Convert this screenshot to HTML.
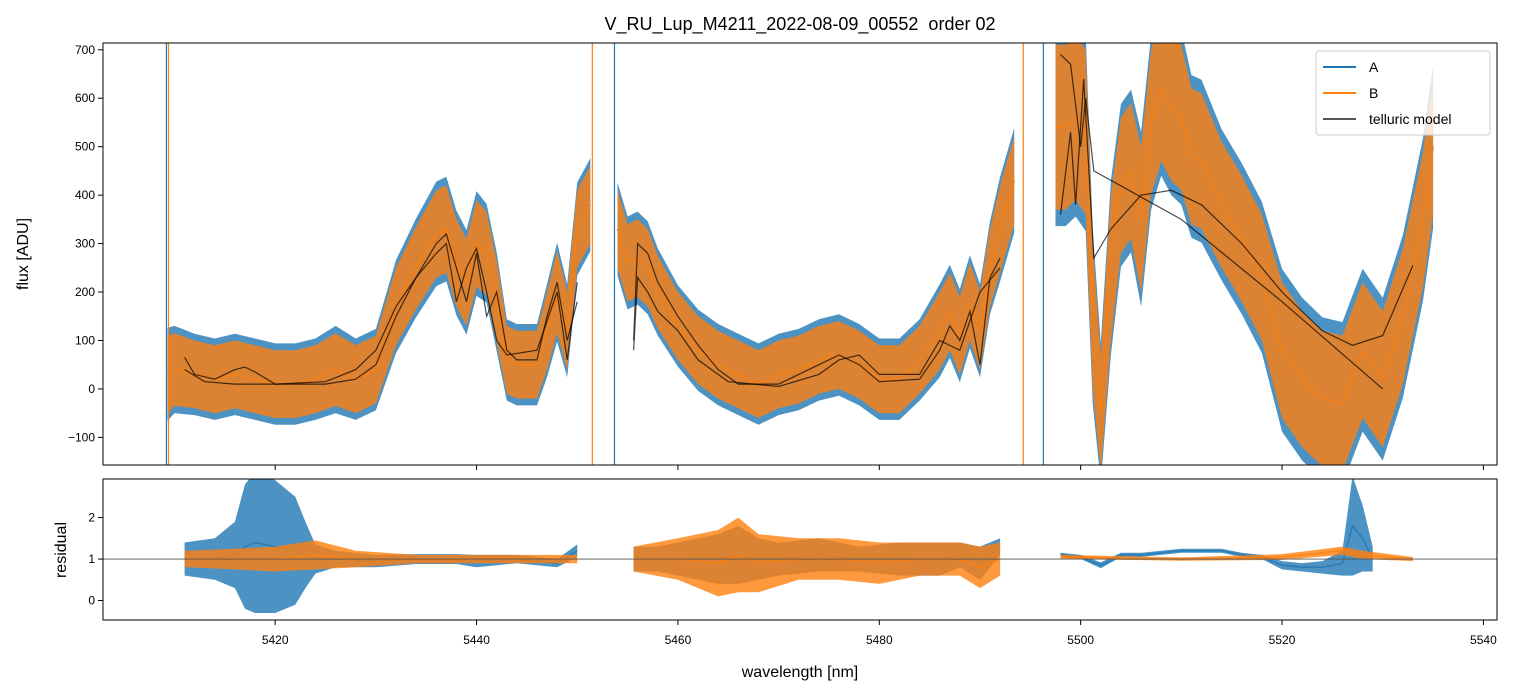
<!DOCTYPE html>
<html><head><meta charset="utf-8">
<style>
body{margin:0;background:#fff;}
svg{display:block;font-family:"Liberation Sans","DejaVu Sans",sans-serif;}
</style></head>
<body>
<svg id="chart" width="1518" height="696" viewBox="0 0 1518 696" xmlns="http://www.w3.org/2000/svg">
<defs>
<clipPath id="clipTop"><rect x="103" y="43" width="1394" height="422"/></clipPath>
<clipPath id="clipBot"><rect x="103" y="479" width="1394" height="141"/></clipPath>
</defs>
<rect x="0" y="0" width="1518" height="696" fill="#fff"/>
<text x="800" y="30" font-size="18" text-anchor="middle" style="white-space:pre">V_RU_Lup_M4211_2022-08-09_00552  order 02</text>
<g id="topPanel" clip-path="url(#clipTop)"></g>
<g id="botPanel" clip-path="url(#clipBot)"></g>
<g id="axesG"></g>
<text x="28" y="254" font-size="16" text-anchor="middle" transform="rotate(-90 28 254)">flux [ADU]</text>
<text x="66" y="550" font-size="16" text-anchor="middle" transform="rotate(-90 66 550)">residual</text>
<text x="800" y="677" font-size="16" text-anchor="middle">wavelength [nm]</text>
<g>
<rect x="1316" y="51" width="174" height="84" rx="3" fill="#fff" fill-opacity="0.8" stroke="#ccc"/>
<line x1="1323" y1="67" x2="1356" y2="67" stroke="#1f77b4" stroke-width="2"/>
<text x="1369" y="72" font-size="14">A</text>
<line x1="1323" y1="93" x2="1356" y2="93" stroke="#ff7f0e" stroke-width="2"/>
<text x="1369" y="98" font-size="14">B</text>
<line x1="1323" y1="119" x2="1356" y2="119" stroke="#555" stroke-width="2"/>
<text x="1369" y="124" font-size="14">telluric model</text>
</g>
</svg>
<script>
// ---- data ----
const fluxWave = [5409.3,5410,5412,5414,5416,5418,5420,5422,5424,5426,5428,5430,5432,5434,5436,5437,5438,5439,5440,5441,5442,5443,5444,5446,5447,5448,5449,5450,5451.3,null,
 5454,5455,5456,5457,5458,5460,5462,5464,5466,5468,5470,5472,5474,5476,5478,5480,5482,5484,5486,5487,5488,5489,5490,5491,5492,5493.4,null,
 5497.5,5498.5,5499.5,5500.5,5501.2,5502,5503,5504,5505,5506,5507,5508,5509,5510,5511,5512,5514,5516,5518,5520,5522,5524,5526,5528,5530,5532,5534,5535];
const fluxCenter = [30,40,30,20,30,20,10,10,20,40,20,40,170,250,320,330,260,220,300,280,180,60,50,50,120,200,120,330,380,null,
 330,260,270,250,200,130,80,50,30,10,30,40,60,70,50,20,20,60,120,160,110,180,120,250,330,430,null,
 540,540,560,530,150,-50,250,420,450,350,550,620,580,560,480,470,380,310,230,80,20,-20,-30,80,20,150,350,500];
const fluxSpread = [80,75,70,70,70,70,70,70,70,75,70,70,80,85,90,90,90,90,90,85,85,70,70,70,80,85,80,80,80,null,
 80,80,80,80,75,70,70,70,70,70,70,70,70,70,70,70,70,70,80,80,80,80,80,80,90,90,null,
 170,170,170,170,150,120,150,140,140,150,150,150,150,150,140,140,130,130,130,140,140,140,140,140,140,140,140,140];
const spikeWaveA = [5409.2,5453.7,5496.3];
const spikeWaveB = [5409.4,5451.5,5494.3];
const modelWaveA = [5411,5412,5414,5416,5417,5418,5420,5425,5428,5430,5432,5434,5436,5437,5438,5439,5440,5441,5442,5443,5444,5446,5447,5448,5449,5450,null,
 5455.6,5456,5457,5458,5460,5462,5464,5466,5470,5474,5476,5478,5480,5484,5486,5487,5488,5489,5490,5491,5492,null,
 5498,5499,5500,5500.5,5501.3,5510,5520,5530];
const modelFluxA = [65,30,20,40,45,35,10,10,20,50,150,230,300,320,250,180,280,150,200,80,60,60,150,220,100,180,null,
 100,300,280,220,150,90,40,10,10,50,70,50,15,20,80,130,100,160,50,230,270,null,
 690,670,500,600,450,350,180,0];
const modelWaveB = [5411,5413,5416,5420,5425,5428,5430,5432,5434,5436,5437,5438,5439,5440,5441,5442,5443,5446,5448,5449,5450,null,
 5455.6,5456,5457,5458,5460,5462,5465,5470,5474,5476,5478,5480,5484,5486,5488,5490,5492,null,
 5498,5499,5499.5,5500.3,5501.3,5503,5506,5509,5512,5516,5520,5524,5527,5530,5533];
const modelFluxB = [40,15,10,10,15,40,80,170,230,280,300,180,250,290,200,100,70,80,200,60,220,null,
 80,230,200,160,120,60,15,5,30,60,70,30,30,100,80,200,250,null,
 360,530,380,640,270,330,400,410,380,300,200,120,90,110,255];
const resWaveA = [5411,5414,5416,5417,5418,5420,5422,5423,5424,5426,5430,5434,5438,5440,5444,5446,5448,5450,null,
 5455.6,5458,5460,5462,5464,5466,5468,5470,5474,5478,5482,5486,5488,5490,5492,null,
 5498,5500,5502,5504,5506,5508,5510,5512,5514,5516,5518,5520,5522,5524,5526,5527,5528,5529];
const resCenterA = [1.0,1.0,1.1,1.3,1.4,1.3,1.2,1.1,1.0,1.0,0.95,1.0,1.0,0.95,1.0,0.95,0.9,1.2,null,
 1.0,1.0,1.0,1.0,1.0,1.1,1.0,1.0,1.1,1.0,1.0,1.0,1.1,0.9,1.3,null,
 1.1,1.05,0.85,1.1,1.1,1.15,1.2,1.2,1.2,1.1,1.05,0.85,0.8,0.8,0.9,1.8,1.5,1.0];
const resSpreadA = [0.4,0.5,0.8,1.5,1.7,1.6,1.3,0.8,0.35,0.2,0.15,0.12,0.12,0.15,0.1,0.1,0.1,0.15,null,
 0.3,0.3,0.4,0.5,0.6,0.7,0.5,0.4,0.4,0.3,0.4,0.4,0.3,0.4,0.2,null,
 0.05,0.05,0.07,0.05,0.05,0.05,0.05,0.05,0.05,0.05,0.05,0.1,0.1,0.15,0.3,1.2,0.8,0.3];
const resWaveB = [5411,5416,5420,5424,5428,5434,5440,5446,5450,null,
 5455.6,5460,5464,5466,5468,5472,5476,5480,5484,5488,5490,5492,null,
 5498,5510,5520,5526,5528,5533];
const resCenterB = [1.0,1.0,1.0,1.1,1.0,1.0,1.0,1.0,1.0,null,
 1.0,1.0,0.9,1.1,0.9,1.0,1.0,0.9,1.0,1.0,0.8,1.0,null,
 1.05,1.0,1.05,1.2,1.1,1.0];
const resSpreadB = [0.2,0.25,0.3,0.35,0.2,0.1,0.1,0.1,0.1,null,
 0.3,0.5,0.8,0.9,0.7,0.5,0.5,0.5,0.4,0.4,0.5,0.4,null,
 0.05,0.04,0.07,0.1,0.1,0.05];
const xTicks = [5420,5440,5460,5480,5500,5520,5540];
const yTicksTop = [-100,0,100,200,300,400,500,600,700];
const yTicksBot = [0,1,2];

// ---- axes ----
const X0=103,X1=1497, XMIN=5402.9, XMAX=5541.35;
const sx = w => X0 + (w-XMIN)/(XMAX-XMIN)*(X1-X0);
const T0=43,T1=465, TMIN=-157, TMAX=714;
const syT = v => T1 - (v-TMIN)/(TMAX-TMIN)*(T1-T0);
const B0=479,B1=620, BMIN=-0.47, BMAX=2.93;
const syB = v => B1 - (v-BMIN)/(BMAX-BMIN)*(B1-B0);
const NS="http://www.w3.org/2000/svg";
function mk(tag, attrs, parent){const e=document.createElementNS(NS,tag);for(const k in attrs)e.setAttribute(k,attrs[k]);parent.appendChild(e);return e;}

function segments(w){const segs=[];let cur=[];w.forEach((v,i)=>{if(v===null){if(cur.length)segs.push(cur);cur=[];}else cur.push(i);});if(cur.length)segs.push(cur);return segs;}

function band(w,c,s,sy,color,op,parent,name){
  segments(w).forEach(seg=>{
    const up=seg.map(i=>sx(w[i]).toFixed(1)+','+sy(c[i]+s[i]).toFixed(1));
    const dn=seg.slice().reverse().map(i=>sx(w[i]).toFixed(1)+','+sy(c[i]-s[i]).toFixed(1));
    const p=mk('polygon',{points:up.concat(dn).join(' '),fill:color,'fill-opacity':op},parent);
    
    
    const l=mk('polyline',{points:seg.map(i=>sx(w[i]).toFixed(1)+','+sy(c[i]).toFixed(1)).join(' '),fill:'none',stroke:color,'stroke-width':1.5,'stroke-opacity':op},parent);
    
    
  });
}
function line(w,v,sy,color,sw,op,parent,name){
  segments(w).forEach(seg=>{
    const l=mk('polyline',{points:seg.map(i=>sx(w[i]).toFixed(1)+','+sy(v[i]).toFixed(1)).join(' '),fill:'none',stroke:color,'stroke-width':sw,'stroke-opacity':op},parent);
    
    
  });
}
const topG=document.getElementById('topPanel'), botG=document.getElementById('botPanel'), axesG=document.getElementById('axesG');

const fluxSpreadA = fluxSpread.map(v=>v===null?null:v*1.2);
band(fluxWave,fluxCenter,fluxSpreadA,syT,'#1f77b4',0.8,topG,'series-a-flux');
band(fluxWave,fluxCenter,fluxSpread,syT,'#ff7f0e',0.8,topG,'series-b-flux');
spikeWaveA.forEach(w=>{const l=mk('line',{x1:sx(w),x2:sx(w),y1:T0,y2:T1,stroke:'#1f77b4','stroke-width':1.2},topG);
  
  });
spikeWaveB.forEach(w=>{const l=mk('line',{x1:sx(w),x2:sx(w),y1:T0,y2:T1,stroke:'#ff7f0e','stroke-width':1.2},topG);
  
  });
line(modelWaveA,modelFluxA,syT,'#000',1.2,0.7,topG,'telluric-model-a');
line(modelWaveB,modelFluxB,syT,'#000',1.2,0.7,topG,'telluric-model-b');

band(resWaveA,resCenterA,resSpreadA,syB,'#1f77b4',0.8,botG,'series-a-residual');
band(resWaveB,resCenterB,resSpreadB,syB,'#ff7f0e',0.8,botG,'series-b-residual');
const ref=mk('line',{x1:X0,x2:X1,y1:syB(1),y2:syB(1),stroke:'#555','stroke-width':0.8},botG);



// frames
[[T0,T1,'flux-panel-frame'],[B0,B1,'residual-panel-frame']].forEach(([a,b,n])=>{
  const r=mk('rect',{x:X0,y:a,width:X1-X0,height:b-a,fill:'none',stroke:'#000','stroke-width':1},axesG);
  
  
});
xTicks.forEach(t=>{
  const x=sx(t);
  mk('line',{x1:x,x2:x,y1:T1,y2:T1+5,stroke:'#000'},axesG);
  mk('line',{x1:x,x2:x,y1:B1,y2:B1+5,stroke:'#000'},axesG);
  const tx=mk('text',{x:x,y:B1+24,'font-size':12,'text-anchor':'middle'},axesG);
  tx.textContent=t;
  
  
});
yTicksTop.forEach(t=>{
  const y=syT(t);
  mk('line',{x1:X0-5,x2:X0,y1:y,y2:y,stroke:'#000'},axesG);
  const tx=mk('text',{x:X0-8,y:y+4,'font-size':12,'text-anchor':'end'},axesG);
  tx.textContent=t<0?'\u2212'+(-t):t;
  
  
});
yTicksBot.forEach(t=>{
  const y=syB(t);
  mk('line',{x1:X0-5,x2:X0,y1:y,y2:y,stroke:'#000'},axesG);
  const tx=mk('text',{x:X0-8,y:y+4,'font-size':12,'text-anchor':'end'},axesG);
  tx.textContent=t;
  
  
});
</script>
</body></html>
